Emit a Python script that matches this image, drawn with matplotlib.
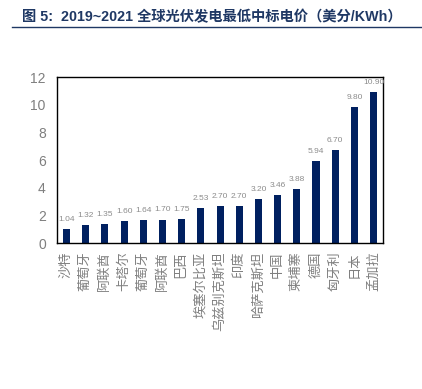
import matplotlib
matplotlib.use("Agg")
import matplotlib.pyplot as plt
from matplotlib.lines import Line2D

plt.rcParams['font.family'] = ['Liberation Sans', 'Noto Sans CJK SC', 'DejaVu Sans']

countries = ["沙特", "葡萄牙", "阿联酋", "卡塔尔", "葡萄牙", "阿联酋", "巴西", "埃塞尔比亚",
             "乌兹别克斯坦", "印度", "哈萨克斯坦", "中国", "柬埔寨", "德国", "匈牙利", "日本", "孟加拉"]
prices = [1.04, 1.32, 1.35, 1.60, 1.64, 1.70, 1.75, 2.53, 2.70, 2.70, 3.20, 3.46, 3.88, 5.94, 6.70, 9.80, 10.90]
yticks = [0, 2, 4, 6, 8, 10, 12]
title = "图 5:  2019~2021 全球光伏发电最低中标电价（美分/KWh）"

fig = plt.figure(figsize=(4.22, 3.89), dpi=100)
ax = fig.add_axes([0.135, 0.375, 0.773, 0.427])
x = range(len(countries))
ax.bar(x, prices, width=0.37, color="#002060")
for xi, v in zip(x, prices):
    ax.text(xi, v + 0.45, f"{v:.2f}", ha="center", va="bottom", fontsize=6.0, color="#8c8c8c")
ax.set_ylim(0, 12)
ax.set_xlim(-0.5, len(countries) - 0.5)
ax.set_yticks(yticks)
ax.set_yticklabels([str(t) for t in yticks], fontsize=10, color="#7f7f7f")
ax.set_xticks(list(x))
ax.set_xticklabels(countries, rotation=90, fontsize=9.5, color="#7f7f7f")
ax.tick_params(axis="y", length=0, pad=8)
ax.tick_params(axis="x", length=0, pad=6)
for s in ax.spines.values():
    s.set_color("black")
    s.set_linewidth(1.0)

fig.text(0.052, 0.956, title, fontsize=10.3, fontweight="bold", color="#1f3864", va="center", ha="left")
fig.add_artist(Line2D([0.028, 1.0], [0.93, 0.93], color="#1f3864", lw=1.0, transform=fig.transFigure))

fig.savefig("out.png", dpi=100)
